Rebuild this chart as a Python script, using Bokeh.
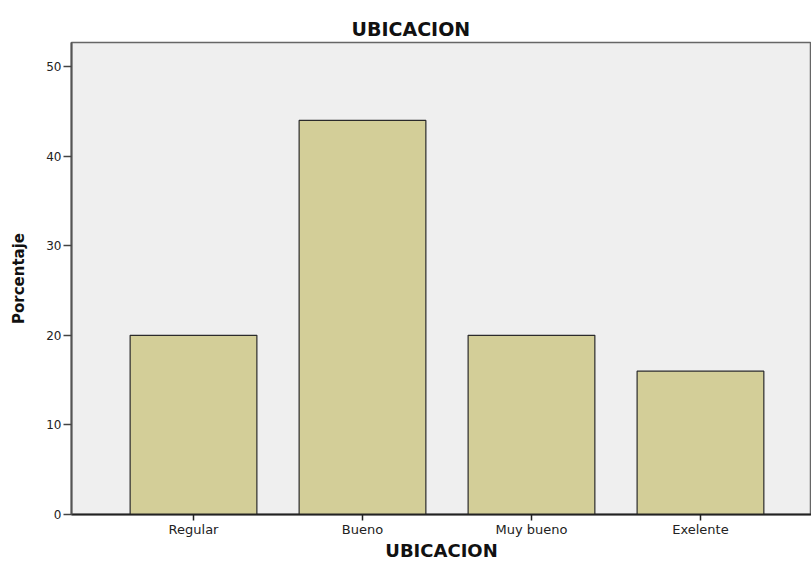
from bokeh.plotting import figure
from bokeh.models import Range1d, FixedTicker, ColumnDataSource
from bokeh.embed import file_html
from bokeh.resources import INLINE

categories = ["Regular", "Bueno", "Muy bueno", "Exelente"]
values = [20, 44, 20, 16]
y_ticks = [0, 10, 20, 30, 40, 50]

pos = list(range(len(categories)))
src = ColumnDataSource(dict(x=pos, top=values, cat=categories))

p = figure(width=811, height=563, output_backend="svg", toolbar_location=None,
           x_range=Range1d(-0.722, 3.657), y_range=Range1d(0, 52.7),
           min_border_left=71, min_border_right=0, min_border_top=42, min_border_bottom=40,
           title="UBICACION")
p.vbar(x="x", top="top", width=0.75, source=src, fill_color="#D3CE98",
       line_color="#2b2b2b", line_width=1.2)

p.background_fill_color = "#EFEFEF"
p.border_fill_color = "white"
p.outline_line_color = "#666666"
p.outline_line_width = 1.5
p.xgrid.visible = False
p.ygrid.visible = False

p.title.align = "left"
p.title.offset = 280
p.title.standoff = 6
p.title.text_font = "DejaVu Sans"
p.title.text_font_size = "19px"
p.title.text_font_style = "bold"
p.title.text_color = "#111111"

p.xaxis.ticker = FixedTicker(ticks=pos)
p.xaxis.major_label_overrides = {i: c for i, c in enumerate(categories)}
p.xaxis.axis_line_color = "#222222"
p.xaxis.axis_line_width = 2
p.xaxis.major_tick_out = 6
p.xaxis.major_tick_in = 0
p.xaxis.minor_tick_line_color = None
p.xaxis.major_tick_line_color = "#222222"
p.xaxis.major_tick_line_width = 1.5
p.xaxis.major_label_text_font = "DejaVu Sans"
p.xaxis.major_label_text_font_size = "13px"
p.xaxis.major_label_text_color = "#222222"
p.xaxis.major_label_standoff = 1
p.xaxis.axis_label = "UBICACION"
p.xaxis.axis_label_text_font = "DejaVu Sans"
p.xaxis.axis_label_text_font_size = "18px"
p.xaxis.axis_label_text_font_style = "bold"
p.xaxis.axis_label_text_color = "#111111"
p.xaxis.axis_label_standoff = 0

p.yaxis.ticker = FixedTicker(ticks=y_ticks)
p.yaxis.axis_line_color = "#555555"
p.yaxis.axis_line_width = 2
p.yaxis.major_tick_out = 8
p.yaxis.major_tick_in = 0
p.yaxis.minor_tick_line_color = None
p.yaxis.major_tick_line_color = "#444444"
p.yaxis.major_tick_line_width = 1.5
p.yaxis.major_label_text_font = "DejaVu Sans"
p.yaxis.major_label_text_font_size = "12px"
p.yaxis.major_label_text_color = "#222222"
p.yaxis.major_label_standoff = 2
p.yaxis.axis_label = "Porcentaje"
p.yaxis.axis_label_text_font = "DejaVu Sans"
p.yaxis.axis_label_text_font_size = "15px"
p.yaxis.axis_label_text_font_style = "bold"
p.yaxis.axis_label_text_color = "#111111"
p.yaxis.axis_label_standoff = 15

open("out.html", "w").write(file_html(p, INLINE))
